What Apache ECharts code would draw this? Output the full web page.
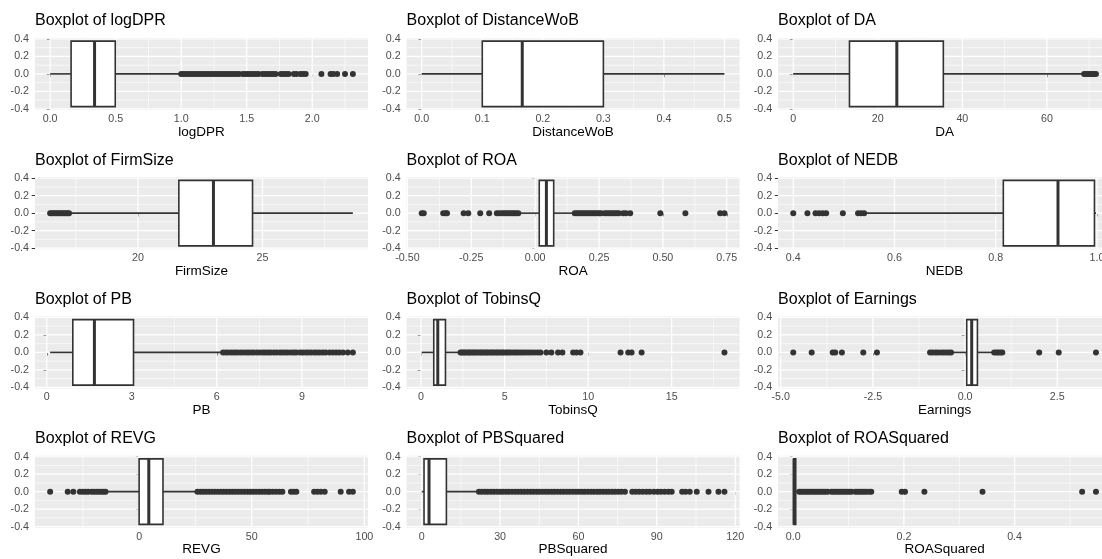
<!DOCTYPE html>
<html>
<head>
<meta charset="utf-8">
<script src="https://cdn.jsdelivr.net/npm/echarts@6.0.0/dist/echarts.min.js"></script>
<style>
html,body{margin:0;padding:0;background:#fff;}
#chart{width:1102px;height:559px;}
</style>
</head>
<body>
<div id="chart"></div>
<script>
// ---------- DATA ----------
const panelNames = ['logDPR','DistanceWoB','DA','FirmSize','ROA','NEDB','PB','TobinsQ','Earnings','REVG','PBSquared','ROASquared'];

// box stats: [lower whisker, Q1, median, Q3, upper whisker]
const logDPR_box = [0.0, 0.16, 0.339, 0.497, 0.994];
const logDPR_out = [1.00,1.02,1.04,1.06,1.08,1.10,1.12,1.14,1.16,1.18,1.20,1.22,1.24,1.26,1.28,1.30,1.32,1.34,1.36,1.38,1.40,1.42,1.44,1.47,1.49,1.51,1.53,1.55,1.57,1.59,1.62,1.64,1.66,1.68,1.70,1.72,1.76,1.78,1.80,1.82,1.86,1.88,1.91,1.93,1.95,2.07,2.14,2.16,2.19,2.25,2.31];
const logDPR_ticks = ['0.0','0.5','1.0','1.5','2.0'];

const DistanceWoB_box = [0.0, 0.1, 0.166, 0.3, 0.5];
const DistanceWoB_out = [];
const DistanceWoB_ticks = ['0.0','0.1','0.2','0.3','0.4','0.5'];

const DA_box = [0.0, 13.3, 24.5, 35.5, 68.6];
const DA_out = [68.8,69.2,69.6,70.0,70.4,70.8,71.2,71.6];
const DA_ticks = ['0','20','40','60'];

const FirmSize_box = [17.27, 21.64, 23.03, 24.60, 28.63];
const FirmSize_out = [16.47,16.54,16.61,16.68,16.75,16.82,16.89,16.96,17.03,17.10,17.17,17.23];
const FirmSize_ticks = ['20','25'];

const ROA_box = [-0.06, 0.016, 0.044, 0.0725, 0.154];
const ROA_out = [-0.444,-0.436,-0.360,-0.350,-0.345,-0.280,-0.262,-0.215,-0.180,-0.150,-0.140,-0.130,-0.122,-0.114,-0.106,-0.098,-0.090,-0.082,-0.074,-0.066,0.155,0.163,0.171,0.179,0.187,0.195,0.203,0.211,0.219,0.227,0.235,0.243,0.251,0.258,0.272,0.280,0.288,0.296,0.304,0.312,0.320,0.328,0.345,0.355,0.372,0.490,0.588,0.724,0.741];
const ROA_ticks = ['-0.50','-0.25','0.00','0.25','0.50','0.75'];

const NEDB_box = [0.542, 0.815, 0.923, 0.995, 0.998];
const NEDB_out = [0.400,0.428,0.444,0.451,0.458,0.465,0.498,0.528,0.534,0.540];
const NEDB_ticks = ['0.4','0.6','0.8','1.0'];

const PB_box = [0.118, 0.918, 1.68, 3.06, 6.21];
const PB_out = [6.22,6.32,6.41,6.52,6.62,6.71,6.82,6.92,7.03,7.12,7.22,7.31,7.42,7.52,7.63,7.72,7.82,7.91,8.02,8.12,8.23,8.32,8.42,8.51,8.62,8.72,8.80,8.93,9.03,9.14,9.23,9.33,9.44,9.53,9.63,9.74,9.84,9.98,10.10,10.21,10.32,10.45,10.62,10.80];
const PB_ticks = ['0','3','6','9'];

const TobinsQ_box = [0.04, 0.76, 1.0, 1.46, 2.34];
const TobinsQ_out = [2.36,2.45,2.55,2.63,2.74,2.85,2.93,3.05,3.14,3.26,3.35,3.47,3.58,3.66,3.78,3.89,3.98,4.10,4.21,4.30,4.42,4.53,4.62,4.75,4.86,4.95,5.08,5.20,5.31,5.45,5.60,5.72,5.86,6.00,6.15,6.30,6.46,6.62,6.80,6.98,7.15,7.50,7.80,8.20,8.46,9.10,9.30,9.54,11.94,12.40,12.60,13.20,18.16];
const TobinsQ_ticks = ['0','5','10','15'];

const Earnings_box = [-0.36, 0.045, 0.18, 0.335, 0.77];
const Earnings_out = [-4.66,-4.16,-3.59,-3.52,-3.34,-2.76,-2.39,-0.95,-0.88,-0.80,-0.73,-0.65,-0.58,-0.51,-0.44,-0.38,0.79,0.85,0.90,0.96,1.01,2.01,2.54,3.55];
const Earnings_ticks = ['-5.0','-2.5','0.0','2.5'];

const REVG_box = [-14.7, 0.0, 4.3, 10.6, 25.7];
const REVG_out = [-39.5,-31.7,-29.2,-26.3,-25.0,-23.8,-22.6,-21.1,-20.0,-18.9,-17.8,-16.7,-15.7,-14.9,25.9,27.2,28.5,29.8,31.1,32.4,33.7,35.0,36.3,37.6,38.9,40.2,41.5,42.8,44.1,45.4,46.7,48.0,49.3,50.6,51.9,53.2,54.5,55.8,57.1,58.0,59.4,60.8,62.3,63.6,67.4,68.6,69.8,77.7,79.2,80.7,82.4,89.5,93.2,94.9];
const REVG_ticks = ['0','50','100'];

const PBSquared_box = [0.01, 0.89, 2.8, 9.45, 21.7];
const PBSquared_out = [21.9,23.0,24.2,25.3,26.5,27.6,28.8,30.0,31.1,32.3,33.4,34.6,35.8,36.9,38.1,39.2,40.4,41.6,42.7,43.9,45.0,46.2,47.4,48.5,49.7,50.8,52.0,53.2,54.3,55.5,56.6,57.8,59.0,60.1,61.3,62.4,63.6,64.8,65.9,67.1,68.2,69.4,70.6,71.7,72.9,74.0,75.2,76.4,77.8,80.6,81.9,83.2,84.6,86.0,87.3,88.9,90.3,91.6,93.0,94.4,95.7,99.7,101.0,102.6,105.3,109.8,113.6,115.9];
const PBSquared_ticks = ['0','30','60','90','120'];

const ROASquared_box = [0.0, 0.0006, 0.0017, 0.0045, 0.0105];
const ROASquared_out = [0.0108,0.014,0.018,0.022,0.026,0.030,0.034,0.038,0.042,0.046,0.050,0.054,0.058,0.062,0.069,0.073,0.077,0.081,0.085,0.089,0.093,0.097,0.101,0.105,0.112,0.116,0.120,0.124,0.128,0.132,0.137,0.141,0.196,0.202,0.237,0.342,0.522,0.547];
const ROASquared_ticks = ['0.0','0.2','0.4'];

const yTicks = ['-0.4','-0.2','0.0','0.2','0.4'];
const boxHalfWidth = 0.375;

// ---------- BUILD ----------
const boxes = [logDPR_box,DistanceWoB_box,DA_box,FirmSize_box,ROA_box,NEDB_box,PB_box,TobinsQ_box,Earnings_box,REVG_box,PBSquared_box,ROASquared_box];
const outs = [logDPR_out,DistanceWoB_out,DA_out,FirmSize_out,ROA_out,NEDB_out,PB_out,TobinsQ_out,Earnings_out,REVG_out,PBSquared_out,ROASquared_out];
const ticks = [logDPR_ticks,DistanceWoB_ticks,DA_ticks,FirmSize_ticks,ROA_ticks,NEDB_ticks,PB_ticks,TobinsQ_ticks,Earnings_ticks,REVG_ticks,PBSquared_ticks,ROASquared_ticks];

const colLeft = [35, 406.6, 778.1];
const panelW = 333;
const rowTop = [37.9, 177.15, 316.4, 455.65];
const panelH = 72;
const FONT = '"Liberation Sans", Arial, Helvetica, sans-serif';

function minorsOf(vals){
  const m = [];
  if (vals.length > 1) {
    const step = vals[1]-vals[0];
    m.push(vals[0]-step/2);
    for (let k=0;k<vals.length-1;k++) m.push((vals[k]+vals[k+1])/2);
    m.push(vals[vals.length-1]+step/2);
  }
  return m;
}
function fmt(vals, labels){
  return function(v){
    for (let k=0;k<vals.length;k++) if (Math.abs(vals[k]-v) < 1e-9*Math.max(1,Math.abs(v))) return labels[k];
    return '';
  };
}

const yVals = yTicks.map(Number);
const yExt = boxHalfWidth*1.1;
const yMinors = minorsOf(yVals);

const option = {animation:false, textStyle:{fontFamily:FONT}, title:[], grid:[], xAxis:[], yAxis:[], series:[]};

panelNames.forEach(function(name, i){
  const r = Math.floor(i/3), c = i%3;
  const box = boxes[i], out = outs[i];
  const all = box.concat(out);
  const dmin = Math.min.apply(null, all), dmax = Math.max.apply(null, all);
  const pad = 0.05*(dmax-dmin);
  const xmin = dmin-pad, xmax = dmax+pad;
  const xVals = ticks[i].map(Number);
  const xMinors = minorsOf(xVals);

  option.title.push({text:'Boxplot of '+name, left:colLeft[c], top:rowTop[r]-25, padding:0,
    textStyle:{fontSize:16, fontWeight:'normal', color:'#000', fontFamily:FONT}});
  option.grid.push({left:colLeft[c], top:rowTop[r], width:panelW, height:panelH, show:true,
    backgroundColor:'#EBEBEB', borderWidth:0, containLabel:false, outerBoundsMode:'none'});
  option.xAxis.push({gridIndex:i, type:'value', min:xmin, max:xmax, name:name, nameLocation:'middle', nameGap:15,
    nameMoveOverlap:false,
    nameTextStyle:{fontSize:13.5, color:'#000', fontFamily:FONT},
    axisLine:{show:false},
    axisTick:{show:true, customValues:xVals, length:3.3, lineStyle:{color:'#333333', width:1}},
    axisLabel:{customValues:xVals, formatter:fmt(xVals, ticks[i]), margin:3.5, fontSize:10.7, color:'#4D4D4D', fontFamily:FONT},
    splitLine:{show:false}});
  option.yAxis.push({gridIndex:i, type:'value', min:-yExt, max:yExt,
    axisLine:{show:false},
    axisTick:{show:true, customValues:yVals, length:3.3, lineStyle:{color:'#333333', width:1}},
    axisLabel:{customValues:yVals, formatter:fmt(yVals, yTicks), margin:6, fontSize:10.7, color:'#4D4D4D', fontFamily:FONT},
    splitLine:{show:false}});

  // grid lines (panel background lines)
  option.series.push({type:'custom', xAxisIndex:i, yAxisIndex:i, z:1, silent:true, clip:true,
    data:[[xmin, 0]], encode:{x:0, y:1},
    renderItem:function(params, api){
      const cs = params.coordSys;
      const ch = [];
      function vline(v, w){
        if (v < xmin || v > xmax) return;
        const px = api.coord([v, 0])[0];
        ch.push({type:'line', shape:{x1:px, y1:cs.y, x2:px, y2:cs.y+cs.height}, style:{stroke:'#FFFFFF', lineWidth:w}});
      }
      function hline(v, w){
        if (v < -yExt || v > yExt) return;
        const py = api.coord([xmin, v])[1];
        ch.push({type:'line', shape:{x1:cs.x, y1:py, x2:cs.x+cs.width, y2:py}, style:{stroke:'#FFFFFF', lineWidth:w}});
      }
      xMinors.forEach(function(v){vline(v, 0.6);});
      yMinors.forEach(function(v){hline(v, 0.6);});
      xVals.forEach(function(v){vline(v, 1.2);});
      yVals.forEach(function(v){hline(v, 1.2);});
      return {type:'group', children:ch};
    }});

  // box + whiskers
  option.series.push({type:'custom', xAxisIndex:i, yAxisIndex:i, z:2, silent:true,
    data:[box.concat([0])], encode:{x:[0,1,2,3,4], y:5},
    renderItem:function(params, api){
      const lo = api.value(0), q1 = api.value(1), med = api.value(2), q3 = api.value(3), hi = api.value(4);
      const pLo = api.coord([lo, 0]), pQ1 = api.coord([q1, 0]), pMed = api.coord([med, 0]), pQ3 = api.coord([q3, 0]), pHi = api.coord([hi, 0]);
      const yT = api.coord([q1, boxHalfWidth])[1], yB = api.coord([q1, -boxHalfWidth])[1];
      const st = {stroke:'#333333', lineWidth:1.6, fill:null};
      return {type:'group', children:[
        {type:'line', shape:{x1:pLo[0], y1:pLo[1], x2:pQ1[0], y2:pQ1[1]}, style:st},
        {type:'line', shape:{x1:pQ3[0], y1:pQ3[1], x2:pHi[0], y2:pHi[1]}, style:st},
        {type:'rect', shape:{x:pQ1[0], y:yT, width:pQ3[0]-pQ1[0], height:yB-yT}, style:{stroke:'#333333', lineWidth:1.6, fill:'#FFFFFF'}},
        {type:'line', shape:{x1:pMed[0], y1:yT, x2:pMed[0], y2:yB}, style:{stroke:'#333333', lineWidth:3}}
      ]};
    }});

  // outliers
  option.series.push({type:'scatter', xAxisIndex:i, yAxisIndex:i, z:3, silent:true,
    symbol:'circle', symbolSize:6, itemStyle:{color:'#333333', opacity:1},
    data:out.map(function(v){return [v, 0];})});
});

const chart = echarts.init(document.getElementById('chart'), null, {renderer:'canvas'});
chart.setOption(option);
</script>
</body>
</html>
